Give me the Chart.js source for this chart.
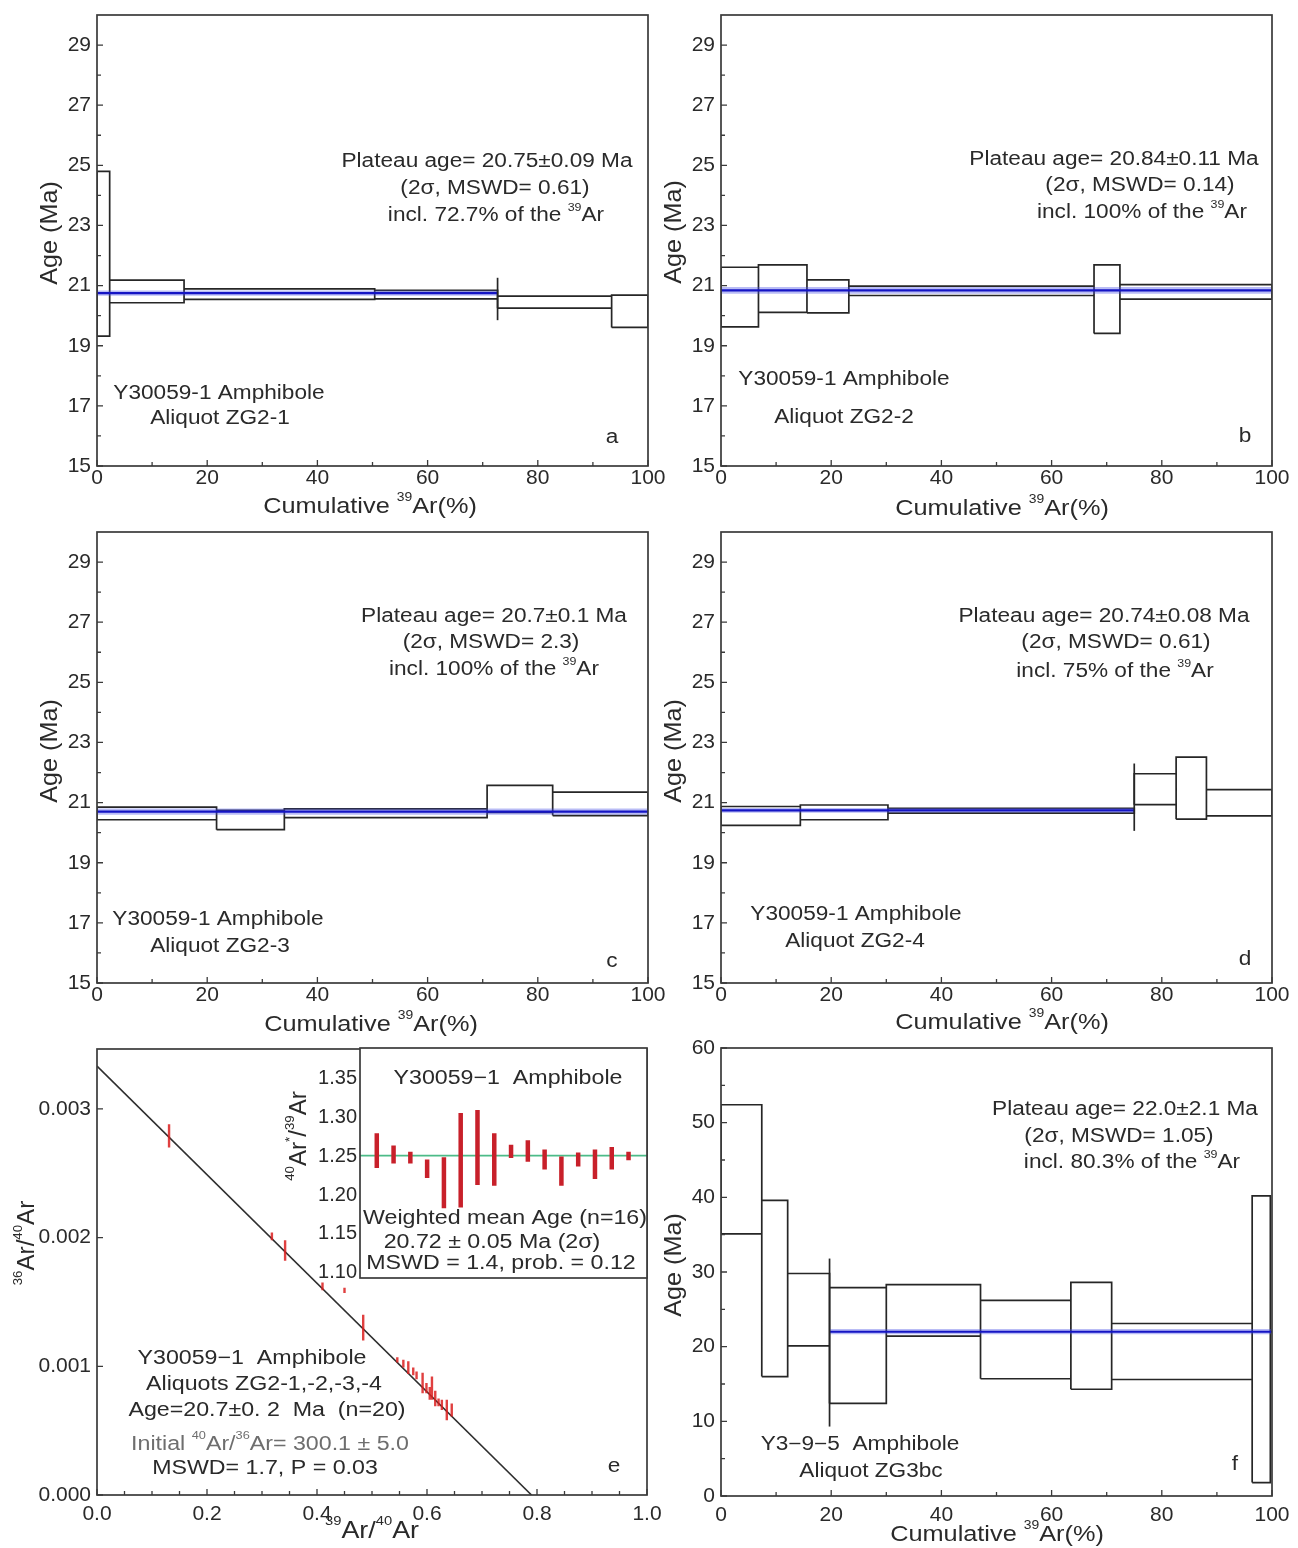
<!DOCTYPE html>
<html>
<head>
<meta charset="utf-8">
<script src="https://cdn.jsdelivr.net/npm/chart.js@4/dist/chart.umd.min.js"></script>
<style>
html,body{margin:0;padding:0;background:#fff;overflow:hidden;}
#wrap{position:relative;width:1298px;height:1548px;background:#fff;overflow:hidden;}
#wrap canvas{position:absolute;}
</style>
</head>
<body>
<div id="wrap"></div>
<script>
// ---------------- tick labels ----------------
const ageTicks   = [15, 17, 19, 21, 23, 25, 27, 29];
const cumTicks   = [0, 20, 40, 60, 80, 100];
const fAgeTicks  = [0, 10, 20, 30, 40, 50, 60];
const isoXTicks  = [0.0, 0.2, 0.4, 0.6, 0.8, 1.0];
const isoYTicks  = [0.000, 0.001, 0.002, 0.003];
const insetTicks = [1.10, 1.15, 1.20, 1.25, 1.30, 1.35];

// ---------------- panel a : ZG2-1 ----------------
const aCum  = [2.3, 15.8, 50.4, 72.7, 93.4, 100];
const aLow  = [19.32, 20.43, 20.54, 20.56, 20.25, 19.61];
const aHigh = [24.80, 21.18, 20.89, 20.84, 20.65, 20.68];
// ---------------- panel b : ZG2-2 ----------------
const bCum  = [6.8, 15.6, 23.2, 67.7, 72.4, 100];
const bLow  = [19.63, 20.11, 20.09, 20.67, 19.41, 20.55];
const bHigh = [21.61, 21.69, 21.19, 20.98, 21.69, 21.03];
// ---------------- panel c : ZG2-3 ----------------
const cCum  = [21.7, 34.0, 70.8, 82.7, 100];
const cLow  = [20.43, 20.10, 20.50, 20.67, 20.57];
const cHigh = [20.85, 20.74, 20.79, 21.57, 21.35];
// ---------------- panel d : ZG2-4 ----------------
const dCum  = [14.4, 30.3, 75.0, 82.6, 88.1, 100];
const dLow  = [20.24, 20.43, 20.65, 20.93, 20.45, 20.56];
const dHigh = [20.87, 20.92, 20.81, 21.96, 22.51, 21.43];
// ---------------- panel f : Y3-9-5 ZG3bc ----------------
const fCum  = [7.4, 12.1, 19.7, 30.0, 47.1, 63.5, 70.9, 96.4, 99.7];
const fLow  = [35.1, 16.0, 20.1, 12.4, 21.4, 15.7, 14.3, 15.6, 1.8];
const fHigh = [52.4, 39.6, 29.8, 27.9, 28.3, 26.2, 28.6, 23.1, 40.2];

// plateau (panels a, b, c, d, f)
const plateauAge  = [20.75, 20.84, 20.70, 20.74, 22.0];
const plateauBand = [0.09, 0.11, 0.10, 0.08, 0.35];
const plateauFrom = [0, 0, 0, 0, 19.7];
const plateauTo   = [72.7, 100, 100, 75.0, 100];

// plateau limit markers (panels a, d, f)
const markerX    = [72.7, 75.0, 19.7];
const markerLow  = [19.85, 20.06, 9.3];
const markerHigh = [21.26, 22.30, 31.8];

// ---------------- panel e : inverse isochron ----------------
const isoX   = [0.131, 0.318, 0.342, 0.410, 0.450, 0.484, 0.546, 0.557, 0.566, 0.575,
                0.581, 0.592, 0.599, 0.605, 0.609, 0.615, 0.621, 0.627, 0.636, 0.645];
const isoY   = [0.00279, 0.00201, 0.00190, 0.00162, 0.00159, 0.00130, 0.00105, 0.00102, 0.00099, 0.00096,
                0.00093, 0.00087, 0.00083, 0.00079, 0.00083, 0.00075, 0.00072, 0.00070, 0.00066, 0.00066];
const isoErr = [0.00009, 0.00003, 0.00008, 0.00003, 0.00002, 0.00010, 0.00002, 0.00003, 0.00005, 0.00003,
                0.00003, 0.00008, 0.00004, 0.00005, 0.00009, 0.00006, 0.00003, 0.00004, 0.00008, 0.00005];
const isoYIntercept = 0.003332;   // 1 / 300.1
const isoXIntercept = 0.79;

// inset : 40Ar*/39Ar steps
const insetLow  = [1.235, 1.241, 1.241, 1.222, 1.183, 1.184, 1.213, 1.212, 1.248, 1.243, 1.233, 1.212, 1.237, 1.221, 1.233, 1.245];
const insetHigh = [1.280, 1.264, 1.256, 1.246, 1.249, 1.306, 1.310, 1.280, 1.265, 1.271, 1.259, 1.250, 1.255, 1.259, 1.262, 1.256];
const insetMean = 1.251;

// ---------------- styling ----------------
const FONT = '"Liberation Sans", Arial, Helvetica, sans-serif';
const TXT  = '#2a2a2a';
const AXC  = '#3a3a3a';
const BOX  = '#262626';
const BLUE = '#1414c4';
const BAND = 'rgba(70,80,230,0.38)';
const TICKFONT = 21;
Chart.defaults.font.family = FONT;
Chart.defaults.color = TXT;

const wrap = document.getElementById('wrap');

function minorBetween(majors, step) {
  const out = [];
  for (let i = 0; i < majors.length - 1; i++) {
    for (let v = majors[i] + step; v < majors[i + 1] - step / 2; v += step) out.push(v);
  }
  return out;
}

function drawRich(ctx, str, x, y, o) {
  const size = o.size || 19.5, sx = o.sx == null ? 1.16 : o.sx;
  const parts = [];
  const re = /\^\{([^}]*)\}/g; let last = 0, m;
  while ((m = re.exec(str))) {
    if (m.index > last) parts.push({ t: str.slice(last, m.index), sup: false });
    parts.push({ t: m[1], sup: true });
    last = re.lastIndex;
  }
  if (last < str.length) parts.push({ t: str.slice(last), sup: false });
  let w = 0;
  parts.forEach(p => {
    ctx.font = (p.sup ? size * 0.55 : size) + 'px ' + FONT;
    p.w = ctx.measureText(p.t).width; w += p.w;
  });
  ctx.save();
  ctx.translate(x, y);
  if (o.rot) ctx.rotate(-Math.PI / 2);
  ctx.scale(sx, 1);
  let cx = o.align === 'left' ? 0 : (o.align === 'right' ? -w : -w / 2);
  ctx.fillStyle = o.color || TXT;
  ctx.textBaseline = 'middle';
  ctx.textAlign = 'left';
  parts.forEach(p => {
    ctx.font = (p.sup ? size * 0.55 : size) + 'px ' + FONT;
    ctx.fillText(p.t, cx, p.sup ? -size * 0.42 : 0);
    cx += p.w;
  });
  ctx.restore();
}

function addChart(spec) {
  const c = document.createElement('canvas');
  c.width = spec.w; c.height = spec.h;
  c.style.left = spec.left + 'px'; c.style.top = spec.top + 'px';
  c.style.width = spec.w + 'px'; c.style.height = spec.h + 'px';
  wrap.appendChild(c);
  const P = { l: spec.plot[0] - spec.left, t: spec.plot[1] - spec.top, r: spec.plot[2] - spec.left, b: spec.plot[3] - spec.top };

  const frame = {
    id: 'frame',
    beforeDatasetsDraw(chart) {
      if (!spec.whiteFill) return;
      const a = chart.chartArea, ctx = chart.ctx;
      ctx.save(); ctx.fillStyle = '#fff';
      ctx.fillRect(a.left, a.top, a.right - a.left, a.bottom - a.top);
      ctx.restore();
    },
    afterDatasetsDraw(chart) {
      const ctx = chart.ctx, a = chart.chartArea, xs = chart.scales.x, ys = chart.scales.y;
      ctx.save();
      ctx.strokeStyle = AXC; ctx.lineWidth = 1.7;
      ctx.strokeRect(a.left, a.top, a.right - a.left, a.bottom - a.top);
      ctx.lineWidth = 1.3;
      ctx.beginPath();
      const tx = (vals, len) => (vals || []).forEach(v => { const p = xs.getPixelForValue(v); ctx.moveTo(p, a.bottom); ctx.lineTo(p, a.bottom - len); });
      const ty = (vals, len) => (vals || []).forEach(v => { const p = ys.getPixelForValue(v); ctx.moveTo(a.left, p); ctx.lineTo(a.left + len, p); });
      tx(spec.xMajor, 6); tx(spec.xMinor, 4);
      ty(spec.yMajor, 6); ty(spec.yMinor, 4);
      ctx.stroke();
      ctx.restore();
    },
    afterDraw(chart) {
      const ctx = chart.ctx;
      (spec.texts || []).forEach(t => drawRich(ctx, t.s, t.x - spec.left, t.y - spec.top, t));
    }
  };

  return new Chart(c, {
    type: 'line',
    data: { datasets: spec.datasets },
    options: {
      responsive: false, animation: false, devicePixelRatio: 1, events: [],
      layout: { padding: { top: P.t, right: spec.w - P.r, left: 0, bottom: spec.hideX ? spec.h - P.b : 0 } },
      plugins: { legend: { display: false }, tooltip: { enabled: false } },
      elements: { point: { radius: 0 }, line: { tension: 0 } },
      scales: {
        x: {
          type: 'linear', display: !spec.hideX, min: spec.xMin, max: spec.xMax, offset: false,
          grid: { display: false, drawTicks: false }, border: { display: false },
          ticks: { font: { size: TICKFONT }, color: TXT, padding: spec.xPad || 0, maxRotation: 0, minRotation: 0, autoSkip: false,
                   callback: spec.xFmt || (v => v) },
          afterBuildTicks: ax => { ax.ticks = (spec.xTicks || []).map(v => ({ value: v })); },
          afterFit: ax => { ax.height = spec.hideX ? 0 : spec.h - P.b; }
        },
        y: {
          type: 'linear', min: spec.yMin, max: spec.yMax,
          grid: { display: false, drawTicks: false }, border: { display: false },
          ticks: { font: { size: spec.yFont || TICKFONT }, color: TXT, padding: spec.yPad || 6, autoSkip: false,
                   callback: spec.yFmt || (v => v) },
          afterBuildTicks: ax => { ax.ticks = spec.yTicks.map(v => ({ value: v })); },
          afterFit: ax => { ax.width = P.l; }
        }
      }
    },
    plugins: [frame]
  });
}

function boxSet(cum, low, high) {
  const pts = []; let x0 = 0;
  cum.forEach((x1, i) => {
    pts.push({ x: x0, y: low[i] }, { x: x1, y: low[i] }, { x: x1, y: high[i] },
             { x: x0, y: high[i] }, { x: x0, y: low[i] }, { x: x1, y: null });
    x0 = x1;
  });
  return { data: pts, borderColor: BOX, borderWidth: 1.7, pointRadius: 0, spanGaps: false, fill: false, order: 3 };
}
function plateauSets(i) {
  const a = plateauAge[i], h = plateauBand[i], f = plateauFrom[i], t = plateauTo[i];
  return [
    { data: [{ x: f, y: a + h }, { x: t, y: a + h }], borderWidth: 0, borderColor: 'rgba(0,0,0,0)',
      backgroundColor: BAND, fill: { value: a - h }, pointRadius: 0, order: 2 },
    { data: [{ x: f, y: a }, { x: t, y: a }], borderColor: BLUE, borderWidth: 2.2, pointRadius: 0, fill: false, order: 1 }
  ];
}
function markerSet(k) {
  return { data: [{ x: markerX[k], y: markerLow[k] }, { x: markerX[k], y: markerHigh[k] }],
           borderColor: BOX, borderWidth: 1.7, pointRadius: 0, fill: false, order: 0 };
}

const ageMinor = minorBetween([15, 17, 19, 21, 23, 25, 27, 29, 31], 1).filter(v => v < 30);
const cumMinor = minorBetween(cumTicks, 10);

function spectrumSpec(o) {
  return Object.assign({
    xMin: 0, xMax: 100, yMin: 15, yMax: 30, xTicks: cumTicks, yTicks: ageTicks,
    xMajor: cumTicks, xMinor: cumMinor, yMajor: ageTicks, yMinor: ageMinor
  }, o);
}

// ---- panel a ----
addChart(spectrumSpec({
  left: 0, top: -10, w: 675, h: 535, plot: [97, 15, 648, 466],
  datasets: [boxSet(aCum, aLow, aHigh), ...plateauSets(0), markerSet(0)],
  texts: [
    { s: 'Plateau age= 20.75±0.09 Ma', x: 487, y: 162 },
    { s: '(2σ, MSWD= 0.61)', x: 495, y: 189 },
    { s: 'incl. 72.7% of the ^{39}Ar', x: 496, y: 216 },
    { s: 'Y30059-1 Amphibole', x: 219, y: 394 },
    { s: 'Aliquot ZG2-1', x: 220, y: 419 },
    { s: 'a', x: 612, y: 438 },
    { s: 'Cumulative ^{39}Ar(%)', x: 370, y: 507, size: 22, sx: 1.15 },
    { s: 'Age (Ma)', x: 50, y: 233, size: 24, sx: 1.05, rot: true }
  ]
}));
// ---- panel b ----
addChart(spectrumSpec({
  left: 650, top: -10, w: 648, h: 535, plot: [721, 15, 1272, 466],
  datasets: [boxSet(bCum, bLow, bHigh), ...plateauSets(1)],
  texts: [
    { s: 'Plateau age= 20.84±0.11 Ma', x: 1114, y: 160 },
    { s: '(2σ, MSWD= 0.14)', x: 1140, y: 186 },
    { s: 'incl. 100% of the ^{39}Ar', x: 1142, y: 213 },
    { s: 'Y30059-1 Amphibole', x: 844, y: 380 },
    { s: 'Aliquot ZG2-2', x: 844, y: 418 },
    { s: 'b', x: 1245, y: 437 },
    { s: 'Cumulative ^{39}Ar(%)', x: 1002, y: 509, size: 22, sx: 1.15 },
    { s: 'Age (Ma)', x: 674, y: 232, size: 24, sx: 1.05, rot: true }
  ]
}));
// ---- panel c ----
addChart(spectrumSpec({
  left: 0, top: 505, w: 675, h: 540, plot: [97, 532, 648, 983],
  datasets: [boxSet(cCum, cLow, cHigh), ...plateauSets(2)],
  texts: [
    { s: 'Plateau age= 20.7±0.1 Ma', x: 494, y: 617 },
    { s: '(2σ, MSWD= 2.3)', x: 491, y: 643 },
    { s: 'incl. 100% of the ^{39}Ar', x: 494, y: 670 },
    { s: 'Y30059-1 Amphibole', x: 218, y: 920 },
    { s: 'Aliquot ZG2-3', x: 220, y: 947 },
    { s: 'c', x: 612, y: 962 },
    { s: 'Cumulative ^{39}Ar(%)', x: 371, y: 1025, size: 22, sx: 1.15 },
    { s: 'Age (Ma)', x: 50, y: 751, size: 24, sx: 1.05, rot: true }
  ]
}));
// ---- panel d ----
addChart(spectrumSpec({
  left: 650, top: 505, w: 648, h: 540, plot: [721, 532, 1272, 983],
  datasets: [boxSet(dCum, dLow, dHigh), ...plateauSets(3), markerSet(1)],
  texts: [
    { s: 'Plateau age= 20.74±0.08 Ma', x: 1104, y: 617 },
    { s: '(2σ, MSWD= 0.61)', x: 1116, y: 643 },
    { s: 'incl. 75% of the ^{39}Ar', x: 1115, y: 672 },
    { s: 'Y30059-1 Amphibole', x: 856, y: 915 },
    { s: 'Aliquot ZG2-4', x: 855, y: 942 },
    { s: 'd', x: 1245, y: 960 },
    { s: 'Cumulative ^{39}Ar(%)', x: 1002, y: 1023, size: 22, sx: 1.15 },
    { s: 'Age (Ma)', x: 674, y: 751, size: 24, sx: 1.05, rot: true }
  ]
}));

// ---- panel e ----
const isoErrPts = [];
isoX.forEach((x, i) => {
  isoErrPts.push({ x: x, y: isoY[i] - isoErr[i] }, { x: x, y: isoY[i] + isoErr[i] }, { x: x, y: null });
});
addChart({
  left: 0, top: 1025, w: 675, h: 523, plot: [97, 1049, 647, 1495], xPad: 7,
  xMin: 0, xMax: 1.0, yMin: 0, yMax: 0.003465,
  xTicks: isoXTicks, yTicks: isoYTicks,
  xFmt: v => Number(v).toFixed(1), yFmt: v => Number(v).toFixed(3),
  xMajor: isoXTicks, xMinor: minorBetween(isoXTicks, 0.05), yMajor: isoYTicks,
  datasets: [
    { data: isoErrPts, borderColor: 'rgba(218,30,30,0.85)', borderWidth: 2.4, pointRadius: 0, spanGaps: false, fill: false, order: 0 },
    { data: [{ x: 0, y: isoYIntercept }, { x: isoXIntercept, y: 0 }], borderColor: '#2e2e2e', borderWidth: 1.6, pointRadius: 0, fill: false, order: 1 }
  ],
  texts: [
    { s: 'Y30059−1  Amphibole', x: 252, y: 1358, size: 20 },
    { s: 'Aliquots ZG2-1,-2,-3,-4', x: 264, y: 1384, size: 20 },
    { s: 'Age=20.7±0. 2  Ma  (n=20)', x: 267, y: 1410, size: 20 },
    { s: 'Initial ^{40}Ar/^{36}Ar= 300.1 ± 5.0', x: 270, y: 1444, size: 20, color: '#6e6e6e' },
    { s: 'MSWD= 1.7, P = 0.03', x: 265, y: 1468, size: 20 },
    { s: 'e', x: 614, y: 1467 },
    { s: '^{39}Ar/^{40}Ar', x: 372, y: 1531, size: 24, sx: 1.12 },
    { s: '^{36}Ar/^{40}Ar', x: 28, y: 1243, size: 23, sx: 1.05, rot: true }
  ]
});

// ---- inset ----
const insetPts = [];
insetLow.forEach((lo, i) => {
  insetPts.push({ x: i + 1, y: lo }, { x: i + 1, y: insetHigh[i] }, { x: i + 1, y: null });
});
addChart({
  left: 280, top: 1025, w: 380, h: 275, plot: [360, 1048, 647, 1278],
  hideX: true, whiteFill: true, yPad: 3, yFont: 20,
  xMin: 0, xMax: 17.1, yMin: 1.093, yMax: 1.39,
  yTicks: insetTicks, yFmt: v => Number(v).toFixed(2),
  datasets: [
    { data: insetPts, borderColor: '#c8202a', borderWidth: 4.5, borderCapStyle: 'butt', pointRadius: 0, spanGaps: false, fill: false, order: 0 },
    { data: [{ x: 0, y: insetMean }, { x: 17.1, y: insetMean }], borderColor: '#4cbb88', borderWidth: 1.6, pointRadius: 0, fill: false, order: 1 }
  ],
  texts: [
    { s: 'Y30059−1  Amphibole', x: 508, y: 1078, size: 20 },
    { s: 'Weighted mean Age (n=16)', x: 505, y: 1218, size: 20 },
    { s: '20.72 ± 0.05 Ma (2σ)', x: 492, y: 1242, size: 20 },
    { s: 'MSWD = 1.4, prob. = 0.12', x: 501, y: 1263, size: 20 },
    { s: '^{40}Ar^{*}/^{39}Ar', x: 300, y: 1136, size: 23, sx: 1.05, rot: true }
  ]
});

// ---- panel f ----
addChart({
  left: 650, top: 1025, w: 648, h: 523, plot: [721, 1048, 1272, 1496], xPad: 7,
  xMin: 0, xMax: 100, yMin: 0, yMax: 60,
  xTicks: cumTicks, yTicks: fAgeTicks,
  xMajor: cumTicks, xMinor: cumMinor, yMajor: fAgeTicks, yMinor: minorBetween(fAgeTicks, 5),
  datasets: [boxSet(fCum, fLow, fHigh), ...plateauSets(4), markerSet(2)],
  texts: [
    { s: 'Plateau age= 22.0±2.1 Ma', x: 1125, y: 1110 },
    { s: '(2σ, MSWD= 1.05)', x: 1119, y: 1137 },
    { s: 'incl. 80.3% of the ^{39}Ar', x: 1132, y: 1163 },
    { s: 'Y3−9−5  Amphibole', x: 860, y: 1445 },
    { s: 'Aliquot ZG3bc', x: 871, y: 1472 },
    { s: 'f', x: 1235, y: 1465 },
    { s: 'Cumulative ^{39}Ar(%)', x: 997, y: 1535, size: 22, sx: 1.15 },
    { s: 'Age (Ma)', x: 674, y: 1265, size: 24, sx: 1.05, rot: true }
  ]
});
</script>
</body>
</html>
